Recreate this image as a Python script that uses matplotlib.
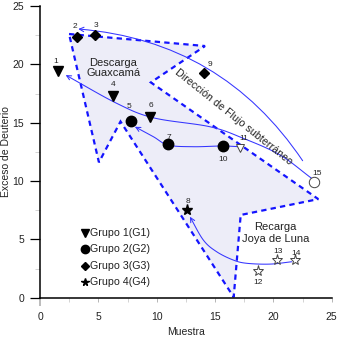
import numpy as np
import matplotlib
matplotlib.use("Agg")
import matplotlib.pyplot as plt
from matplotlib.path import Path
from matplotlib.patches import Polygon, FancyArrowPatch

plt.rcParams['font.family'] = ['Liberation Sans', 'DejaVu Sans']

# ---- data ----
ids = ['1', '2', '3', '4', '5', '6', '7', '8', '9', '10', '11', '12', '13', '14', '15']
x_vals = [1.57, 3.14, 4.71, 6.28, 7.77, 9.43, 10.94, 12.57, 14.08, 15.65, 17.14, 18.70, 20.28, 21.85, 23.50]
y_vals = [19.45, 22.37, 22.51, 17.28, 15.17, 15.51, 13.14, 7.51, 19.28, 13.00, 12.80, 2.29, 3.23, 3.23, 9.94]
markers = ['v', 'D', 'D', 'v', 'o', 'v', 'o', '*', 'D', 'o', 'v', '*', '*', '*', 'o']
filled = [True, True, True, True, True, True, True, True, True, True, False, False, False, False, False]
label_off = [(-2, 7), (-1, 7), (1, 7), (0, 8), (-1, 10), (1, 8), (1, 5), (1, 6), (4, 6), (0, -10),
             (3, 7), (0, -8), (1, 6), (1, 5), (2, 6)]

legend_markers = ['v', 'o', 'D', '*']
legend_labels = ['Grupo 1(G1)', 'Grupo 2(G2)', 'Grupo 3(G3)', 'Grupo 4(G4)']

# region outline (Descarga Guaxcamá / flow zone)
region_x = [2.49, 14.14, 9.50, 23.85, 17.20, 16.60, 6.90, 5.05]
region_y = [22.60, 21.57, 18.45, 8.45, 7.09, 0.05, 15.10, 11.60]

# flow arrows (waypoints, last point = arrow tip)
arrowA_x = [22.51, 3.28]
arrowA_y = [11.74, 23.03]
arrowB_x = [23.28, 20.57, 17.42, 14.57, 9.71, 6.57, 2.20]
arrowB_y = [10.23, 12.23, 13.66, 14.65, 15.42, 16.66, 19.08]
arrowC_x = [17.14, 15.57, 13.14, 11.00, 9.71, 8.14]
arrowC_y = [12.94, 13.00, 12.94, 13.08, 13.80, 14.65]
arrowD_x = [21.57, 19.71, 17.71, 16.56, 15.14, 14.00, 12.85]
arrowD_y = [3.08, 2.88, 2.95, 3.23, 3.94, 4.94, 6.94]


def catmull(xs, ys, n=20):
    pts = np.column_stack([xs, ys]).astype(float)
    pts = np.vstack([2 * pts[0] - pts[1], pts, 2 * pts[-1] - pts[-2]])
    out = []
    for i in range(1, len(pts) - 2):
        p0, p1, p2, p3 = pts[i - 1], pts[i], pts[i + 1], pts[i + 2]
        for t in np.linspace(0, 1, n, endpoint=False):
            t2, t3 = t * t, t * t * t
            out.append(0.5 * ((2 * p1) + (-p0 + p2) * t + (2 * p0 - 5 * p1 + 4 * p2 - p3) * t2
                              + (-p0 + 3 * p1 - 3 * p2 + p3) * t3))
    out.append(pts[-2])
    return np.array(out)


fig = plt.figure(figsize=(3.43, 3.39), dpi=100)
ax = fig.add_axes([40 / 343, 1 - 297.7 / 339, 291.7 / 343, 291.7 / 339])
ax.set_xlim(0, 25)
ax.set_ylim(0, 25)

# region
poly = Polygon(np.column_stack([region_x, region_y]), closed=True, facecolor='#ededf8',
               edgecolor='#1414ff', lw=1.6, linestyle=(0, (2.4, 1.9)), zorder=1)
ax.add_patch(poly)

blue = '#3535ff'
astyle = '->,head_length=3.2,head_width=1.6'
arrA = FancyArrowPatch((arrowA_x[0], arrowA_y[0]), (arrowA_x[1], arrowA_y[1]),
                       connectionstyle='arc3,rad=0.24', arrowstyle=astyle,
                       color=blue, lw=0.75, zorder=2, shrinkA=0, shrinkB=0)
ax.add_patch(arrA)
for xs, ys in [(arrowB_x, arrowB_y), (arrowC_x, arrowC_y), (arrowD_x, arrowD_y)]:
    p = catmull(xs, ys)
    arr = FancyArrowPatch(path=Path(p), arrowstyle=astyle,
                          color=blue, lw=0.75, zorder=2, shrinkA=0, shrinkB=0)
    ax.add_patch(arr)

sizes = {'v': 7, 'o': 7.5, 'D': 5.5, '*': 8}
for i in range(len(ids)):
    m = markers[i]
    if filled[i]:
        ax.plot(x_vals[i], y_vals[i], marker=m, ms=sizes[m], color='black', mec='black', zorder=4)
    else:
        ms = sizes[m] * (0.8 if m == 'v' else 1.0)
        ax.plot(x_vals[i], y_vals[i], marker=m, ms=ms, mfc='white', mec='#444444', mew=0.7, zorder=4)
    ax.annotate(ids[i], (x_vals[i], y_vals[i]), xytext=label_off[i], textcoords='offset points',
                ha='center', va='center', fontsize=6, color='#222222', zorder=5)

# legend as text rows
leg_y = [5.52, 4.15, 2.73, 1.33]
for m, lab, yy in zip(legend_markers, legend_labels, leg_y):
    ax.plot(3.86, yy, marker=m, ms={'v': 5.5, 'o': 6, 'D': 4.5, '*': 5.5}[m], color='black', zorder=4)
    ax.text(4.3, yy, lab, fontsize=7.7, va='center', ha='left', color='#222222')

ax.text(6.3, 19.7, 'Descarga\nGuaxcamá', fontsize=8, ha='center', va='center', color='#222222',
        linespacing=1.05)
ax.text(20.2, 5.55, 'Recarga\nJoya de Luna', fontsize=8, ha='center', va='center', color='#222222',
        linespacing=1.25)
ax.text(16.6, 15.45, 'Dirección de Flujo subterráneo', fontsize=7.7, rotation=-38.6,
        rotation_mode='anchor', ha='center', va='center', color='#222222')

for s in ['top', 'right']:
    ax.spines[s].set_visible(False)
for s in ['left', 'bottom']:
    ax.spines[s].set_linewidth(1.1)

ax.set_xticks([0, 5, 10, 15, 20, 25])
ax.set_yticks([0, 5, 10, 15, 20, 25])
ax.set_xticks([2.5, 7.5, 12.5, 17.5, 22.5], minor=True)
ax.set_yticks([2.5, 7.5, 12.5, 17.5, 22.5], minor=True)
ax.tick_params(axis='x', which='major', length=3.2, width=0.6, color='#aaaaaa', pad=7,
               labelsize=7.5, labelcolor='#222222')
ax.tick_params(axis='x', which='minor', length=3.2, width=0.6, color='#cccccc')
ax.tick_params(axis='y', which='major', length=7.5, width=0.9, color='black', pad=4,
               labelsize=7.5, labelcolor='#222222')
ax.tick_params(axis='y', which='minor', length=3.5, width=0.6, color='#cccccc')
xt = ax.xaxis.get_major_ticks()
xt[0].tick1line.set_color('black')
xt[0].tick1line.set_markersize(6)
xt[0].tick1line.set_markeredgewidth(1.1)
xt[-1].tick1line.set_color('black')

ax.set_xlabel('Muestra', fontsize=7.5, color='#222222')
ax.set_ylabel('Exceso de Deuterio', fontsize=7.5, color='#222222')
ax.xaxis.set_label_coords(0.5, -0.1)
ax.yaxis.set_label_coords(-0.1, 0.5)

fig.savefig('out.png', dpi=100)
